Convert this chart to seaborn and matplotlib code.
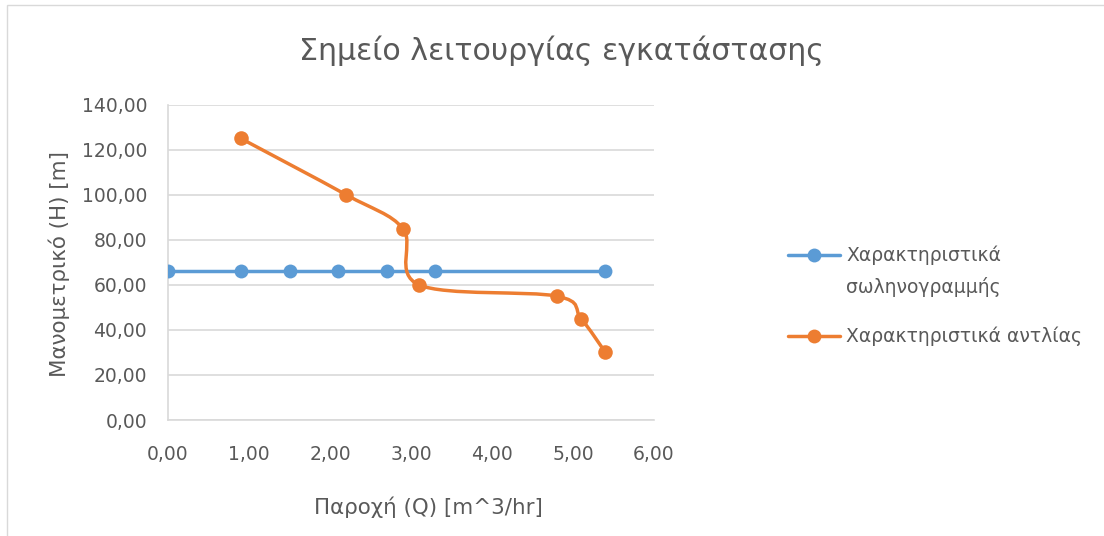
import numpy as np
import pandas as pd
import seaborn as sns
import matplotlib
matplotlib.use("Agg")
import matplotlib.pyplot as plt
from matplotlib.path import Path
from matplotlib.patches import PathPatch, Rectangle
from matplotlib.lines import Line2D
from matplotlib.ticker import FuncFormatter

# ---- data ----
pipe_q = [0.0, 0.9, 1.5, 2.1, 2.7, 3.3, 5.4]
pipe_h = [66, 66, 66, 66, 66, 66, 66]
pump_q = [0.9, 2.2, 2.9, 3.1, 4.8, 5.1, 5.4]
pump_h = [125, 100, 85, 60, 55, 45, 30]
series_names = ["Χαρακτηριστικά\nσωληνογραμμής", "Χαρακτηριστικά αντλίας"]
title = "Σημείο λειτουργίας εγκατάστασης"
xlabel = "Παροχή (Q) [m^3/hr]"
ylabel = "Μανομετρικό (H) [m]"

BLUE = "#5B9BD5"
ORANGE = "#ED7D31"
TXT = "#595959"
W, H = 1104, 536

sns.set_style("white")
plt.rcParams['font.family'] = ['DejaVu Sans']

fig = plt.figure(figsize=(W / 100, H / 100), dpi=100)
fig.patch.set_facecolor("white")
fig.patches.append(Rectangle((7 / W, -0.1), 1.2, 1.1 - 5 / H, transform=fig.transFigure,
                             fill=False, edgecolor="#d9d9d9", linewidth=1.0))

ax = fig.add_axes([168 / W, 1 - 420 / H, (654 - 168) / W, (420 - 104.7) / H])

df_pipe = pd.DataFrame({"Q": pipe_q, "H": pipe_h})
df_pump = pd.DataFrame({"Q": pump_q, "H": pump_h})

sns.lineplot(data=df_pipe, x="Q", y="H", ax=ax, color=BLUE, linewidth=2.5,
             marker="o", markersize=10, markeredgewidth=0, zorder=3)

# Excel-style smoothed line (Bezier through the data points)
P = np.column_stack([pump_q, pump_h]).astype(float)
n = len(P)
verts = [P[0]]
codes = [Path.MOVETO]
for i in range(n - 1):
    p0 = P[i - 1] if i > 0 else P[i]
    p1 = P[i]
    p2 = P[i + 1]
    p3 = P[i + 2] if i + 2 < n else P[i + 1]
    c1 = p1 + (p2 - p0) / 6.0
    c2 = p2 - (p3 - p1) / 6.0
    verts += [c1, c2, p2]
    codes += [Path.CURVE4] * 3
ax.add_patch(PathPatch(Path(verts, codes), facecolor="none", edgecolor=ORANGE,
                       linewidth=2.5, zorder=3, capstyle="round", joinstyle="round"))
sns.scatterplot(data=df_pump, x="Q", y="H", ax=ax, color=ORANGE, s=110,
                linewidth=0, zorder=4)

ax.set_xlim(0, 6)
ax.set_ylim(0, 140)
ax.set_xticks(np.arange(0, 6.01, 1))
ax.set_yticks(np.arange(0, 140.1, 20))
fmt = FuncFormatter(lambda v, p: f"{v:.2f}".replace(".", ","))
ax.xaxis.set_major_formatter(fmt)
ax.yaxis.set_major_formatter(fmt)
ax.tick_params(axis="both", length=0, labelsize=13.5, colors=TXT)
ax.tick_params(axis="x", pad=18)
ax.tick_params(axis="y", pad=15)
ax.grid(axis="y", color="#d9d9d9", linewidth=1.2)
ax.grid(axis="x", visible=False)
for s in ["top", "right"]:
    ax.spines[s].set_visible(False)
for s in ["left", "bottom"]:
    ax.spines[s].set_color("#d9d9d9")
    ax.spines[s].set_linewidth(1.2)
ax.set_xlabel("")
ax.set_ylabel("")

fig.text(561 / W, 1 - 51 / H, title, ha="center", va="center", fontsize=21.6, color=TXT)
fig.text(428 / W, 1 - 507 / H, xlabel, ha="center", va="center", fontsize=15.4, color=TXT)
fig.text(59 / W, 1 - 264 / H, ylabel, ha="center", va="center", rotation=90,
         fontsize=15.4, color=TXT)

# legend (drawn in figure coordinates, handle aligned with first text line)
leg_colors = [BLUE, ORANGE]
leg_y = [255, 336]
for name, col, yy in zip(series_names, leg_colors, leg_y):
    yf = 1 - yy / H
    fig.add_artist(Line2D([788 / W, 840 / W], [yf, yf], transform=fig.transFigure,
                          color=col, linewidth=2.5))
    fig.add_artist(Line2D([814 / W], [yf], transform=fig.transFigure, color=col,
                          marker="o", markersize=10, markeredgewidth=0, linestyle="none"))
    lines = name.split("\n")
    for k, ln in enumerate(lines):
        fig.text(846 / W, 1 - (yy + 32 * k) / H, ln, ha="left", va="center",
                 fontsize=13.5, color=TXT)

fig.savefig("out.png", dpi=100, facecolor="white")
